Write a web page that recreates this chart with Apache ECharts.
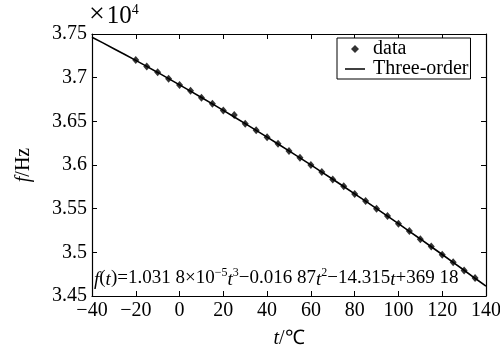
<!DOCTYPE html>
<html>
<head>
<meta charset="utf-8">
<script src="https://cdn.jsdelivr.net/npm/echarts@6/dist/echarts.min.js"></script>
<style>html,body{margin:0;padding:0;background:#fff}#c{width:500px;height:348px}</style>
</head>
<body>
<div id="c"></div>
<script>
// x ticks
var xTicks = [-40, -20, 0, 20, 40, 60, 80, 100, 120, 140];
// y ticks (x10^4 Hz)
var yTicks = [3.45, 3.5, 3.55, 3.6, 3.65, 3.7, 3.75];
// measured data: temperature (°C) and frequency (x10^4 Hz)
var dataT = [-20,-15,-10,-5,0,5,10,15,20,25,30,35,40,45,50,55,60,65,70,75,80,85,90,95,100,105,110,115,120,125,130,135];
var dataF = [3.7201,3.7127,3.7061,3.6988,3.6916,3.6849,3.6771,3.6702,3.6623,3.6572,3.6473,3.6398,3.6317,3.6243,3.6160,3.6083,3.5999,3.5921,3.5835,3.5756,3.5668,3.5588,3.5499,3.5417,3.5326,3.5243,3.5151,3.5066,3.4973,3.4887,3.4793,3.4705];
// three-order fit curve
var lineT = [-40,-35,-30,-25,-20,-15,-10,-5,0,5,10,15,20,25,30,35,40,45,50,55,60,65,70,75,80,85,90,95,100,105,110,115,120,125,130,135,140];
var lineF = [3.7463,3.7398,3.7332,3.7265,3.7198,3.7129,3.7060,3.6989,3.6918,3.6846,3.6773,3.6700,3.6625,3.6550,3.6474,3.6397,3.6319,3.6241,3.6161,3.6081,3.6001,3.5919,3.5837,3.5754,3.5670,3.5586,3.5501,3.5415,3.5328,3.5241,3.5153,3.5064,3.4975,3.4885,3.4795,3.4703,3.4612];

var FONT = '"Liberation Serif", "Times New Roman", serif';
var xMin = xTicks[0], xMax = xTicks[xTicks.length-1];
var yMin = yTicks[0], yMax = yTicks[yTicks.length-1];
var FS = 20;

var chart = echarts.init(document.getElementById('c'), null, {renderer:'canvas'});
var axisLineStyle = {color:'#000', width:1.2};
function mkX(pos, show) {
  return {
    type:'value', position:pos, min:xMin, max:xMax, interval:20,
    axisLine:{show:true, onZero:false, lineStyle:axisLineStyle},
    axisTick:{show:true, inside:true, length:5, lineStyle:{color:'#000', width:1}},
    axisLabel:{show:show, color:'#000', fontFamily:FONT, fontSize:FS, margin:5,
      formatter:function(v){return v<0 ? '\u2212'+Math.abs(v) : String(v);}},
    splitLine:{show:false},
    name: show ? '{i|t}/℃' : '',
    nameLocation:'middle', nameGap:33,
    nameTextStyle:{color:'#000', fontFamily:FONT, fontSize:FS,
      rich:{i:{fontStyle:'italic', fontFamily:FONT, fontSize:FS, color:'#000'}}}
  };
}
function mkY(pos, show) {
  return {
    type:'value', position:pos, min:yMin, max:yMax, interval:0.05,
    axisLine:{show:true, onZero:false, lineStyle:axisLineStyle},
    axisTick:{show:true, inside:true, length:5, lineStyle:{color:'#000', width:1}},
    axisLabel:{show:show, color:'#000', fontFamily:FONT, fontSize:FS, margin:5,
      formatter:function(v){return String(+v.toFixed(2));}},
    splitLine:{show:false},
    name: show ? '{i|f}/Hz' : '',
    nameLocation:'middle', nameGap:58, nameRotate:90,
    nameTextStyle:{color:'#000', fontFamily:FONT, fontSize:FS,
      rich:{i:{fontStyle:'italic', fontFamily:FONT, fontSize:FS, color:'#000'}}}
  };
}

var scatterData = dataT.map(function(t,i){return [t, dataF[i]];});
var lineData = lineT.map(function(t,i){return [t, lineF[i]];});

var N = 19, S = 12;
chart.setOption({
  animation:false,
  backgroundColor:'#fff',
  title:{
    left:89, top:3, padding:0, itemGap:0,
    text:'{x|×}{n|10}{s|4}',
    textStyle:{color:'#000', fontFamily:FONT, fontSize:25, fontWeight:'normal', lineHeight:26,
      rich:{
        x:{fontSize:28, fontFamily:FONT, color:'#000', lineHeight:26, verticalAlign:'bottom', padding:[0,2,0,0]},
        n:{fontSize:25, fontFamily:FONT, color:'#000', lineHeight:26, verticalAlign:'bottom'},
        s:{fontSize:14, fontFamily:FONT, color:'#000', lineHeight:26, verticalAlign:'top'}
      }
    }
  },
  grid:{left:92, top:34, right:14, bottom:52, containLabel:false, outerBoundsMode:'none'},
  xAxis:[mkX('bottom', true), mkX('top', false)],
  yAxis:[mkY('left', true), mkY('right', false)],
  legend:{
    left:337, top:38, orient:'vertical', align:'left',
    backgroundColor:'#fff', borderColor:'#000', borderWidth:1,
    padding:[1,2,0,8], itemGap:0, itemWidth:20, itemHeight:8,
    symbolKeepAspect:true,
    textStyle:{color:'#000', fontFamily:FONT, fontSize:20, padding:[0,0,0,3]},
    data:[
      {name:'data', icon:'path://M5,0 L10,5 L5,10 L0,5 Z'},
      {name:'Three-order', icon:'path://M0,0 L40,0 L40,3 L0,3 Z'}
    ]
  },
  series:[
    {name:'Three-order', type:'line', data:lineData, symbol:'none',
      lineStyle:{color:'#000', width:1.6}, itemStyle:{color:'#000'}, z:2},
    {name:'data', type:'scatter', data:scatterData, symbol:'diamond', symbolSize:[7,8],
      itemStyle:{color:'#000'}, z:3}
  ],
  graphic:[
    {type:'text', left:94, top:267, style:{
      text:'{i|f}({i|t})=1.031 8×10{s|−5}{i|t}{s|3}−0.016 87{i|t}{s|2}−14.315{i|t}+369 18',
      fill:'#000', fontFamily:FONT, fontSize:N, lineHeight:22,
      rich:{
        i:{fontStyle:'italic', fontFamily:FONT, fontSize:N, fill:'#000', lineHeight:22, verticalAlign:'bottom'},
        s:{fontFamily:FONT, fontSize:S, fill:'#000', verticalAlign:'top', lineHeight:22}
      }
    }}
  ]
});
</script>
</body>
</html>
